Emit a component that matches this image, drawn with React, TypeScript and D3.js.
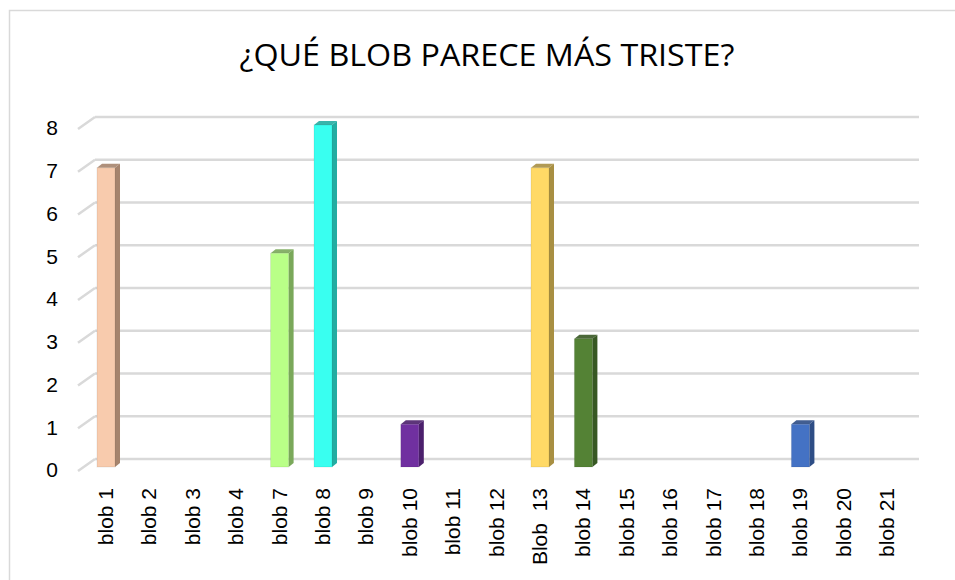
import React from "react";
import * as d3 from "d3";

const categories = ["blob 1","blob 2","blob 3","blob 4","blob 7","blob 8","blob 9","blob 10","blob 11","blob 12","Blob  13","blob 14","blob 15","blob 16","blob 17","blob 18","blob 19","blob 20","blob 21"];
const values = [7,0,0,0,5,8,0,1,0,0,7,3,0,0,0,0,1,0,0];
const frontColors = ["#F8CBAD","#F8CBAD","#F8CBAD","#F8CBAD","#B9FF87","#39FFF0","#FFFFFF","#7030A0","#FFFFFF","#FFFFFF","#FFD966","#548235","#FFFFFF","#FFFFFF","#FFFFFF","#FFFFFF","#4472C4","#FFFFFF","#FFFFFF"];
const sideColors = ["#A6846D","#A6846D","#A6846D","#A6846D","#7AA85A","#22ADA2","#CCCCCC","#4B206C","#CCCCCC","#CCCCCC","#A88F42","#375823","#CCCCCC","#CCCCCC","#CCCCCC","#CCCCCC","#2E4D85","#CCCCCC","#CCCCCC"];
const yTicks = [0,1,2,3,4,5,6,7,8];
const title = "¿QUÉ BLOB PARECE MÁS TRISTE?";

export default function App() {
  const W = 955, H = 580;
  const x = d3.scaleBand<string>().domain(categories).range([84.3, 908.9]).padding(0);
  const yFront = d3.scaleLinear().domain([0, 8]).range([467, 125]);
  const yBack = (v: number) => yFront(v) - 8;
  const depthX = 17, depthY = 12;
  const barW = x.bandwidth() * 0.415;
  const sx = 5, sy = 4;

  return (
    <svg width={W} height={H} style={{ position: "absolute", left: 0, top: 0, background: "#fff" }}>
      <rect x={9.5} y={10.5} width={W + 10} height={H + 10} fill="#fff" stroke="#D9D9D9" strokeWidth={1.5} />
      <text x={487} y={66} textAnchor="middle" fontFamily="'Open Sans', sans-serif" fontSize={30.5} fill="#000"
        textLength={495} lengthAdjust="spacingAndGlyphs">{title}</text>
      {yTicks.map((t) => {
        const yb = yBack(t);
        return (
          <g key={t}>
            <line x1={95} x2={919} y1={yb} y2={yb} stroke="#D9D9D9" strokeWidth={2.5} />
            <line x1={95 - depthX} x2={95} y1={yb + depthY} y2={yb} stroke="#D9D9D9" strokeWidth={2.5} />
            <text x={58} y={yb + 11} dy="0.35em" textAnchor="end" fontFamily="'Liberation Sans', Arial, sans-serif" fontSize={21} fill="#000">{t}</text>
          </g>
        );
      })}
      {categories.map((c, i) => {
        const v = values[i];
        if (!v) return null;
        const cx = (x(c) as number) + x.bandwidth() / 2;
        const x0 = cx - barW / 2, x1 = cx + barW / 2;
        const yt = yFront(v), yb = yFront(0);
        return (
          <g key={c}>
            <polygon points={`${x1},${yt} ${x1 + sx},${yt - sy} ${x1 + sx},${yb - sy} ${x1},${yb}`} fill={sideColors[i]} />
            <polygon points={`${x0},${yt} ${x0 + sx},${yt - sy} ${x1 + sx},${yt - sy} ${x1},${yt}`} fill={sideColors[i]} opacity={0.9} />
            <rect x={x0} y={yt} width={barW} height={yb - yt} fill={frontColors[i]} stroke="#000" strokeOpacity={0.08} strokeWidth={1} />
          </g>
        );
      })}
      {categories.map((c) => {
        const cx = (x(c) as number) + x.bandwidth() / 2;
        return (
          <text key={c} transform={`translate(${cx + 7},488) rotate(-90)`} textAnchor="end"
            fontFamily="'Liberation Sans', Arial, sans-serif" fontSize={21} fill="#000" style={{ whiteSpace: "pre" }}>{c}</text>
        );
      })}
    </svg>
  );
}
